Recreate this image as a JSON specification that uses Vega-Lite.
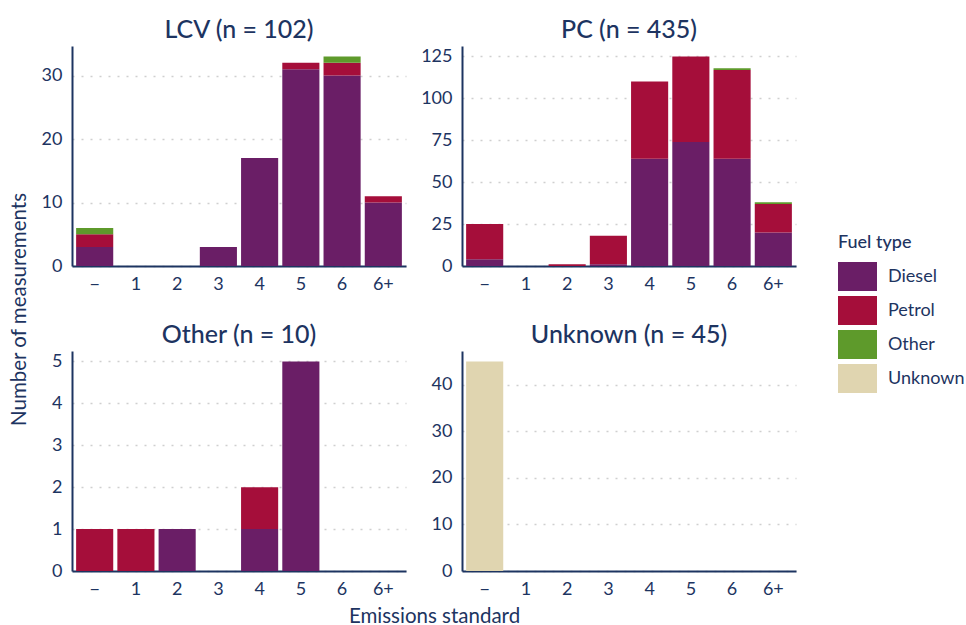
{
  "$schema": "https://vega.github.io/schema/vega-lite/v6.json",
  "background": "white",
  "padding": {"left": 9, "top": 18, "right": 0, "bottom": 0},
  "bounds": "flush",
  "data": {
    "values": [
      {"panel": "LCV", "std": "−", "fuel": "Diesel", "n": 3},
      {"panel": "LCV", "std": "−", "fuel": "Petrol", "n": 2},
      {"panel": "LCV", "std": "−", "fuel": "Other", "n": 1},
      {"panel": "LCV", "std": "3", "fuel": "Diesel", "n": 3},
      {"panel": "LCV", "std": "4", "fuel": "Diesel", "n": 17},
      {"panel": "LCV", "std": "5", "fuel": "Diesel", "n": 31},
      {"panel": "LCV", "std": "5", "fuel": "Petrol", "n": 1},
      {"panel": "LCV", "std": "6", "fuel": "Diesel", "n": 30},
      {"panel": "LCV", "std": "6", "fuel": "Petrol", "n": 2},
      {"panel": "LCV", "std": "6", "fuel": "Other", "n": 1},
      {"panel": "LCV", "std": "6+", "fuel": "Diesel", "n": 10},
      {"panel": "LCV", "std": "6+", "fuel": "Petrol", "n": 1},
      {"panel": "PC", "std": "−", "fuel": "Diesel", "n": 4},
      {"panel": "PC", "std": "−", "fuel": "Petrol", "n": 21},
      {"panel": "PC", "std": "2", "fuel": "Petrol", "n": 1},
      {"panel": "PC", "std": "3", "fuel": "Diesel", "n": 1},
      {"panel": "PC", "std": "3", "fuel": "Petrol", "n": 17},
      {"panel": "PC", "std": "4", "fuel": "Diesel", "n": 64},
      {"panel": "PC", "std": "4", "fuel": "Petrol", "n": 46},
      {"panel": "PC", "std": "5", "fuel": "Diesel", "n": 74},
      {"panel": "PC", "std": "5", "fuel": "Petrol", "n": 51},
      {"panel": "PC", "std": "6", "fuel": "Diesel", "n": 64},
      {"panel": "PC", "std": "6", "fuel": "Petrol", "n": 53},
      {"panel": "PC", "std": "6", "fuel": "Other", "n": 1},
      {"panel": "PC", "std": "6+", "fuel": "Diesel", "n": 20},
      {"panel": "PC", "std": "6+", "fuel": "Petrol", "n": 17},
      {"panel": "PC", "std": "6+", "fuel": "Other", "n": 1},
      {"panel": "Other", "std": "−", "fuel": "Petrol", "n": 1},
      {"panel": "Other", "std": "1", "fuel": "Petrol", "n": 1},
      {"panel": "Other", "std": "2", "fuel": "Diesel", "n": 1},
      {"panel": "Other", "std": "4", "fuel": "Diesel", "n": 1},
      {"panel": "Other", "std": "4", "fuel": "Petrol", "n": 1},
      {"panel": "Other", "std": "5", "fuel": "Diesel", "n": 5},
      {"panel": "Unknown", "std": "−", "fuel": "Unknown", "n": 45}
    ]
  },
  "transform": [{"calculate": "indexof(['Diesel', 'Petrol', 'Other', 'Unknown'], datum.fuel)", "as": "stack_order"}],
  "columns": 2,
  "spacing": {"row": 85, "column": 56},
  "concat": [
    {
      "title": "LCV (n = 102)",
      "width": 334, "height": 220,
      "transform": [{"filter": "datum.panel === 'LCV'"}],
      "mark": {"type": "bar"},
      "encoding": {
        "x": {"field": "std", "type": "ordinal", "scale": {"domain": ["−", "1", "2", "3", "4", "5", "6", "6+"], "paddingInner": 0.1, "paddingOuter": 0.1}, "axis": {"title": null, "labelAngle": 0}},
        "y": {"field": "n", "type": "quantitative", "stack": "zero", "scale": {"domain": [0, 34.65], "nice": false}, "axis": {"values": [0, 10, 20, 30], "title": "Number of measurements", "titleY": 263}},
        "color": {"field": "fuel", "type": "nominal", "scale": {"domain": ["Diesel", "Petrol", "Other", "Unknown"], "range": ["#6a1e66", "#a50e3a", "#5e9a2b", "#e0d5b0"]}, "title": "Fuel type"},
        "order": {"field": "stack_order", "type": "quantitative", "sort": "ascending"}
      }
    },
    {
      "title": "PC (n = 435)",
      "width": 334, "height": 220,
      "transform": [{"filter": "datum.panel === 'PC'"}],
      "mark": {"type": "bar"},
      "encoding": {
        "x": {"field": "std", "type": "ordinal", "scale": {"domain": ["−", "1", "2", "3", "4", "5", "6", "6+"], "paddingInner": 0.1, "paddingOuter": 0.1}, "axis": {"title": null, "labelAngle": 0}},
        "y": {"field": "n", "type": "quantitative", "stack": "zero", "scale": {"domain": [0, 131.25], "nice": false}, "axis": {"values": [0, 25, 50, 75, 100, 125], "title": null}},
        "color": {"field": "fuel", "type": "nominal", "scale": {"domain": ["Diesel", "Petrol", "Other", "Unknown"], "range": ["#6a1e66", "#a50e3a", "#5e9a2b", "#e0d5b0"]}, "title": "Fuel type"},
        "order": {"field": "stack_order", "type": "quantitative", "sort": "ascending"}
      }
    },
    {
      "title": "Other (n = 10)",
      "width": 334, "height": 220,
      "transform": [{"filter": "datum.panel === 'Other'"}],
      "mark": {"type": "bar"},
      "encoding": {
        "x": {"field": "std", "type": "ordinal", "scale": {"domain": ["−", "1", "2", "3", "4", "5", "6", "6+"], "paddingInner": 0.1, "paddingOuter": 0.1}, "axis": {"title": "Emissions standard", "labelAngle": 0, "titleX": 362, "titleAlign": "center"}},
        "y": {"field": "n", "type": "quantitative", "stack": "zero", "scale": {"domain": [0, 5.25], "nice": false}, "axis": {"values": [0, 1, 2, 3, 4, 5], "title": null}},
        "color": {"field": "fuel", "type": "nominal", "scale": {"domain": ["Diesel", "Petrol", "Other", "Unknown"], "range": ["#6a1e66", "#a50e3a", "#5e9a2b", "#e0d5b0"]}, "title": "Fuel type"},
        "order": {"field": "stack_order", "type": "quantitative", "sort": "ascending"}
      }
    },
    {
      "title": "Unknown (n = 45)",
      "width": 334, "height": 220,
      "transform": [{"filter": "datum.panel === 'Unknown'"}],
      "mark": {"type": "bar"},
      "encoding": {
        "x": {"field": "std", "type": "ordinal", "scale": {"domain": ["−", "1", "2", "3", "4", "5", "6", "6+"], "paddingInner": 0.1, "paddingOuter": 0.1}, "axis": {"title": null, "labelAngle": 0}},
        "y": {"field": "n", "type": "quantitative", "stack": "zero", "scale": {"domain": [0, 47.25], "nice": false}, "axis": {"values": [0, 10, 20, 30, 40], "title": null}},
        "color": {"field": "fuel", "type": "nominal", "scale": {"domain": ["Diesel", "Petrol", "Other", "Unknown"], "range": ["#6a1e66", "#a50e3a", "#5e9a2b", "#e0d5b0"]}, "title": "Fuel type"},
        "order": {"field": "stack_order", "type": "quantitative", "sort": "ascending"}
      }
    }
  ],
  "config": {
    "font": "Lato",
    "view": {"stroke": null},
    "axis": {
      "labelColor": "#1d3461", "titleColor": "#1d3461", "labelFontSize": 18, "titleFontSize": 20.5,
      "titleFontWeight": "normal", "domainColor": "#1d3461", "domainWidth": 2, "ticks": false, "labelPadding": 10
    },
    "axisX": {"grid": false, "titlePadding": 8, "labelPadding": 9},
    "axisY": {"grid": true, "gridColor": "#cfcfcf", "gridDash": [2, 7], "gridWidth": 1.5, "titlePadding": 12},
    "title": {"fontSize": 25, "fontWeight": 500, "color": "#1d3461", "offset": 3},
    "legend": {
      "orient": "none", "legendX": 766, "legendY": 188,
      "titleFontSize": 18, "titleFontWeight": 500, "titleColor": "#1d3461", "titlePadding": 5,
      "labelFontSize": 18, "labelColor": "#1d3461", "labelOffset": 11,
      "symbolType": "M-1,-0.74H1V0.74H-1Z", "symbolSize": 1521, "symbolStrokeWidth": 0, "symbolOpacity": 1,
      "rowPadding": -2
    }
  }
}
